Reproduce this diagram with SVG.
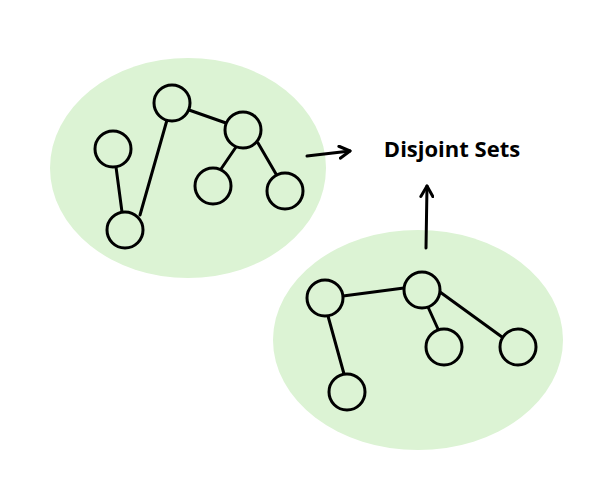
<svg xmlns="http://www.w3.org/2000/svg" width="600" height="500" viewBox="0 0 600 500">
<style>
.blob{fill:#dcf3d4}
.n{fill:#dcf3d4;stroke:#000;stroke-width:3}
.e{stroke:#000;stroke-width:3;fill:none;stroke-linecap:round}
</style>
<defs><marker id="ah" viewBox="0 0 10 10" refX="8" refY="5" markerWidth="5" markerHeight="5" orient="auto"><path d="M1,1 L8,5 L1,9" fill="none" stroke="#000" stroke-width="2" stroke-linecap="round" stroke-linejoin="round"/></marker></defs>
<ellipse class="blob" cx="188" cy="168" rx="138" ry="110"/>
<ellipse class="blob" cx="418" cy="340" rx="145" ry="110"/>
<g id="connectors">
<line class="e" x1="116" y1="167" x2="122" y2="212"/>
<line class="e" x1="140" y1="215" x2="167" y2="120"/>
<line class="e" x1="189" y1="110" x2="226" y2="123"/>
<line class="e" x1="236" y1="147" x2="221" y2="169"/>
<line class="e" x1="258" y1="143" x2="276" y2="174"/>
<line class="e" x1="343" y1="296" x2="404" y2="288"/>
<line class="e" x1="328" y1="316" x2="344" y2="374"/>
<line class="e" x1="428" y1="307" x2="438" y2="329"/>
<line class="e" x1="440" y1="292" x2="502" y2="337"/>
<line class="e" x1="307" y1="156" x2="350" y2="151" marker-end="url(#ah)"/>
<line class="e" x1="426" y1="248" x2="427" y2="186" marker-end="url(#ah)"/>
</g>
<g id="A"><circle class="n" cx="172" cy="103" r="18"/></g>
<g id="B"><circle class="n" cx="243" cy="130" r="18"/></g>
<g id="C"><circle class="n" cx="113" cy="149" r="18"/></g>
<g id="D"><circle class="n" cx="213" cy="186" r="18"/></g>
<g id="E"><circle class="n" cx="285" cy="191" r="18"/></g>
<g id="F"><circle class="n" cx="125" cy="230" r="18"/></g>
<g id="G"><circle class="n" cx="325" cy="298" r="18"/></g>
<g id="H"><circle class="n" cx="422" cy="290" r="18"/></g>
<g id="I"><circle class="n" cx="444" cy="347" r="18"/></g>
<g id="J"><circle class="n" cx="518" cy="347" r="18"/></g>
<g id="K"><circle class="n" cx="347" cy="392" r="18"/></g>
<g id="label"><text x="452" y="157" text-anchor="middle" font-family="Open Sans, Liberation Sans, sans-serif" font-weight="bold" font-size="22">Disjoint Sets</text></g>
</svg>
